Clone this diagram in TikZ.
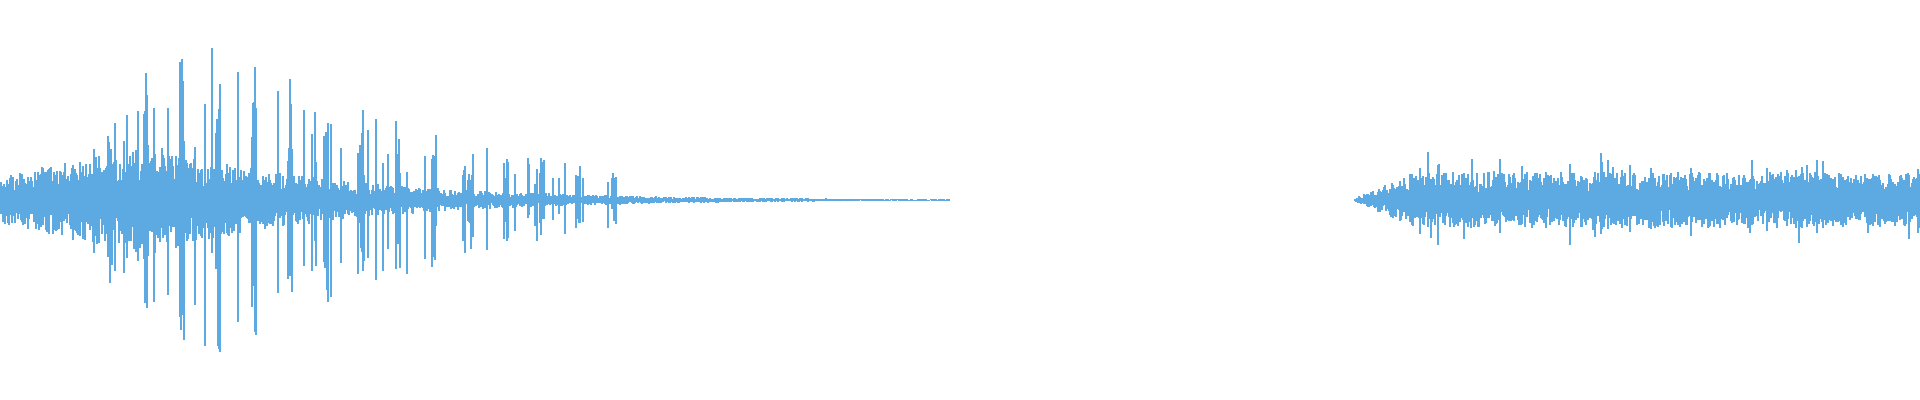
\documentclass[tikz,border=0pt]{standalone}
\definecolor{wave}{RGB}{93,170,226}
\begin{document}
\begin{tikzpicture}[x=0.01cm,y=0.01cm]
\useasboundingbox (0,0) rectangle (1920,400);
\pgfmathsetseed{7}
\foreach \i in {0,...,1919}{
  \pgfmathsetmacro\e{\i<150 ? 25+\i/150*30 : (\i<950 ? 55*exp(-(\i-150)/190) : (\i<1355 ? 0 : (\i<1410 ? 2+(\i-1355)/55*24 : 28)))}
  \pgfmathsetmacro\g{(\i<200 ? (\i-70)/130 : exp(-(\i-200)/260))}
  \pgfmathsetmacro\sp{(\i>70 && \i<620 && (mod(\i,36)<5 || rnd>0.9)) ? 140*\g : ((\i>1410 && rnd>0.93) ? 22 : 0)}
  \pgfmathsetmacro\up{\e*(0.3+0.7*rnd)+\sp*(0.2+0.8*rnd)}
  \pgfmathsetmacro\dn{\e*(0.3+0.7*rnd)+\sp*(0.2+0.8*rnd)}
  \ifdim\up pt>0.3pt
    \draw[wave,line width=0.45pt] (\i,200-\dn) -- (\i,200+\up);
  \fi
}
\end{tikzpicture}
\end{document}
